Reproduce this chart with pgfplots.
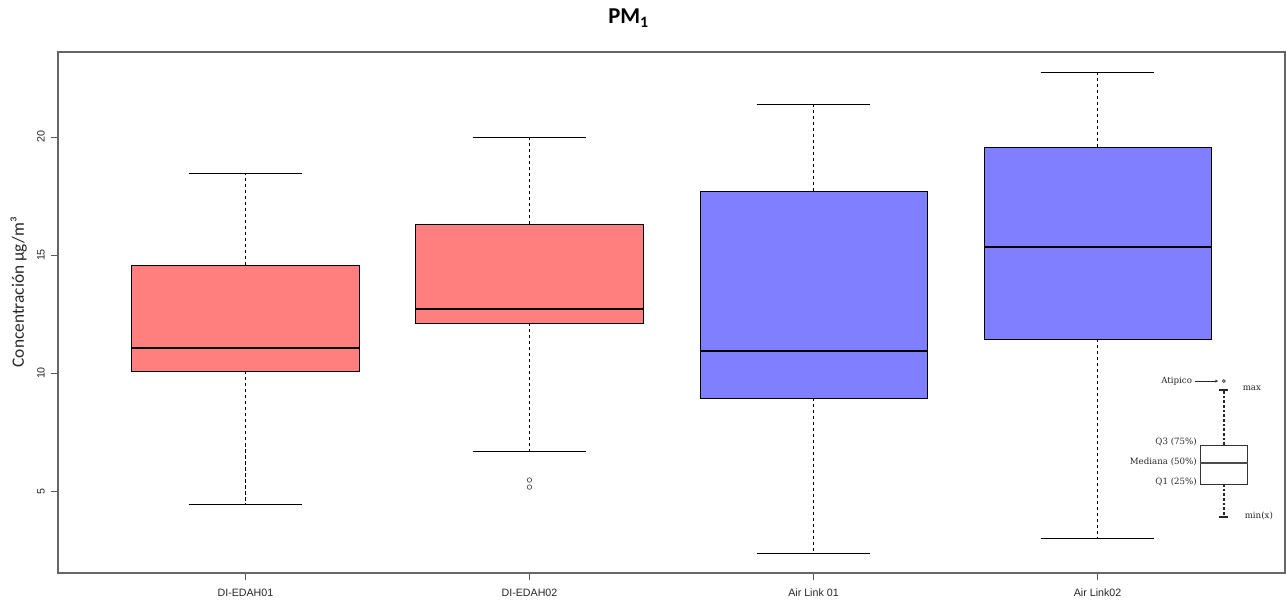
\documentclass[border=0pt]{standalone}
\usepackage{pgfplots}
\pgfplotsset{compat=1.18}
\usetikzlibrary{arrows.meta}
\usepackage{fontspec}
\setmainfont{Liberation Sans}
\newfontfamily\carlito{Carlito}
\newfontfamily\dvserif{DejaVu Serif}
\definecolor{redbox}{RGB}{255,127,127}
\definecolor{bluebox}{RGB}{127,127,255}
\pgfplotsset{
  whisk/.style={black, line width=0.5pt, dash pattern=on 2.5pt off 2pt, mark=none},
  cap/.style={black, line width=0.6pt, solid, mark=none},
  boxs/.style={draw=black, line width=0.6pt, mark=none},
  med/.style={black, line width=1.8pt, mark=none},
}
\begin{document}
\begin{tikzpicture}
\path[use as bounding box] (-43.5pt,-21pt) rectangle (921pt,429.75pt);
\begin{axis}[
  at={(0,0)}, anchor=south west,
  scale only axis, width=920.25pt, height=390.75pt,
  xmin=0.34, xmax=4.66, ymin=1.53, ymax=23.6,
  xtick={1,2,3,4},
  xticklabels={DI-EDAH01,DI-EDAH02,Air Link 01,Air Link02},
  ytick={5,10,15,20},
  tick align=outside, tick pos=left, major tick length=5pt,
  tick style={black!65, line width=0.6pt},
  axis line style={black!60, line width=0.8pt},
  ticklabel style={font=\fontsize{8}{10}\selectfont, text=black!85},
  xticklabel style={yshift=-3.5pt},
  yticklabel style={rotate=90, anchor=south, yshift=1.5pt},
  /pgf/number format/assume math mode=true,
  clip=false,
]
% ---- DI-EDAH01
\addplot[whisk] coordinates {(1,14.58) (1,18.47)};
\addplot[whisk] coordinates {(1,10.08) (1,4.45)};
\addplot[cap] coordinates {(0.8,18.47) (1.2,18.47)};
\addplot[cap] coordinates {(0.8,4.45) (1.2,4.45)};
\addplot[boxs, fill=redbox] coordinates {(0.6,10.08) (1.4,10.08) (1.4,14.58) (0.6,14.58)} -- cycle;
\addplot[med] coordinates {(0.6,11.06) (1.4,11.06)};
% ---- DI-EDAH02
\addplot[whisk] coordinates {(2,16.31) (2,20.0)};
\addplot[whisk] coordinates {(2,12.12) (2,6.69)};
\addplot[cap] coordinates {(1.8,20.0) (2.2,20.0)};
\addplot[cap] coordinates {(1.8,6.69) (2.2,6.69)};
\addplot[boxs, fill=redbox] coordinates {(1.6,12.12) (2.4,12.12) (2.4,16.31) (1.6,16.31)} -- cycle;
\addplot[med] coordinates {(1.6,12.71) (2.4,12.71)};
\addplot[only marks, mark=o, mark size=1.7pt, mark options={draw=black!70, line width=0.5pt}] coordinates {(2,5.47) (2,5.17)};
% ---- Air Link 01
\addplot[whisk] coordinates {(3,17.71) (3,21.36)};
\addplot[whisk] coordinates {(3,8.94) (3,2.37)};
\addplot[cap] coordinates {(2.8,21.36) (3.2,21.36)};
\addplot[cap] coordinates {(2.8,2.37) (3.2,2.37)};
\addplot[boxs, fill=bluebox] coordinates {(2.6,8.94) (3.4,8.94) (3.4,17.71) (2.6,17.71)} -- cycle;
\addplot[med] coordinates {(2.6,10.93) (3.4,10.93)};
% ---- Air Link02
\addplot[whisk] coordinates {(4,19.58) (4,22.75)};
\addplot[whisk] coordinates {(4,11.44) (4,3.01)};
\addplot[cap] coordinates {(3.8,22.75) (4.2,22.75)};
\addplot[cap] coordinates {(3.8,3.01) (4.2,3.01)};
\addplot[boxs, fill=bluebox] coordinates {(3.6,11.44) (4.4,11.44) (4.4,19.58) (3.6,19.58)} -- cycle;
\addplot[med] coordinates {(3.6,15.34) (4.4,15.34)};
% ---- inset legend
\addplot[black!85, line width=1.2pt, dash pattern=on 2pt off 1.5pt, mark=none] coordinates {(4.4446,6.95) (4.4446,9.28)};
\addplot[black!85, line width=1.2pt, dash pattern=on 2pt off 1.5pt, mark=none] coordinates {(4.4446,5.30) (4.4446,3.90)};
\addplot[black!85, line width=1.3pt, mark=none] coordinates {(4.4286,9.28) (4.4606,9.28)};
\addplot[black!85, line width=1.3pt, mark=none] coordinates {(4.4286,3.90) (4.4606,3.90)};
\addplot[draw=black!80, fill=white, line width=0.5pt, mark=none] coordinates {(4.3602,5.30) (4.5290,5.30) (4.5290,6.95) (4.3602,6.95)} -- cycle;
\addplot[black!70, line width=1.6pt, mark=none] coordinates {(4.3602,6.19) (4.5290,6.19)};
\addplot[only marks, mark=o, mark size=1.1pt, mark options={draw=black!80, line width=0.5pt}] coordinates {(4.4446,9.66)};
\begin{scope}[every node/.style={font=\dvserif\fontsize{6.5}{7}\selectfont, text=black!85, inner sep=0.5pt}]
\node[anchor=east] at (axis cs:4.336,9.66) {Atipico};
\draw[-{Stealth[length=2.5pt,width=2pt]}, black!85, line width=0.5pt] (axis cs:4.343,9.66) -- (axis cs:4.425,9.66);
\node[anchor=west] at (axis cs:4.508,9.36) {max};
\node[anchor=east] at (axis cs:4.353,7.08) {Q3 (75\%)};
\node[anchor=east] at (axis cs:4.353,6.23) {Mediana (50\%)};
\node[anchor=east] at (axis cs:4.353,5.38) {Q1 (25\%)};
\node[anchor=west] at (axis cs:4.515,3.94) {min(x)};
\end{scope}
\node[font=\carlito\bfseries\fontsize{17}{20}\selectfont] at (axis description cs:0.465,1.065) {PM\textsubscript{1}};
\node[rotate=90, font=\carlito\fontsize{13}{15}\selectfont, text=black!85] at (axis description cs:-0.032,0.539) {Concentración µg/m³};
\end{axis}
\end{tikzpicture}
\end{document}
